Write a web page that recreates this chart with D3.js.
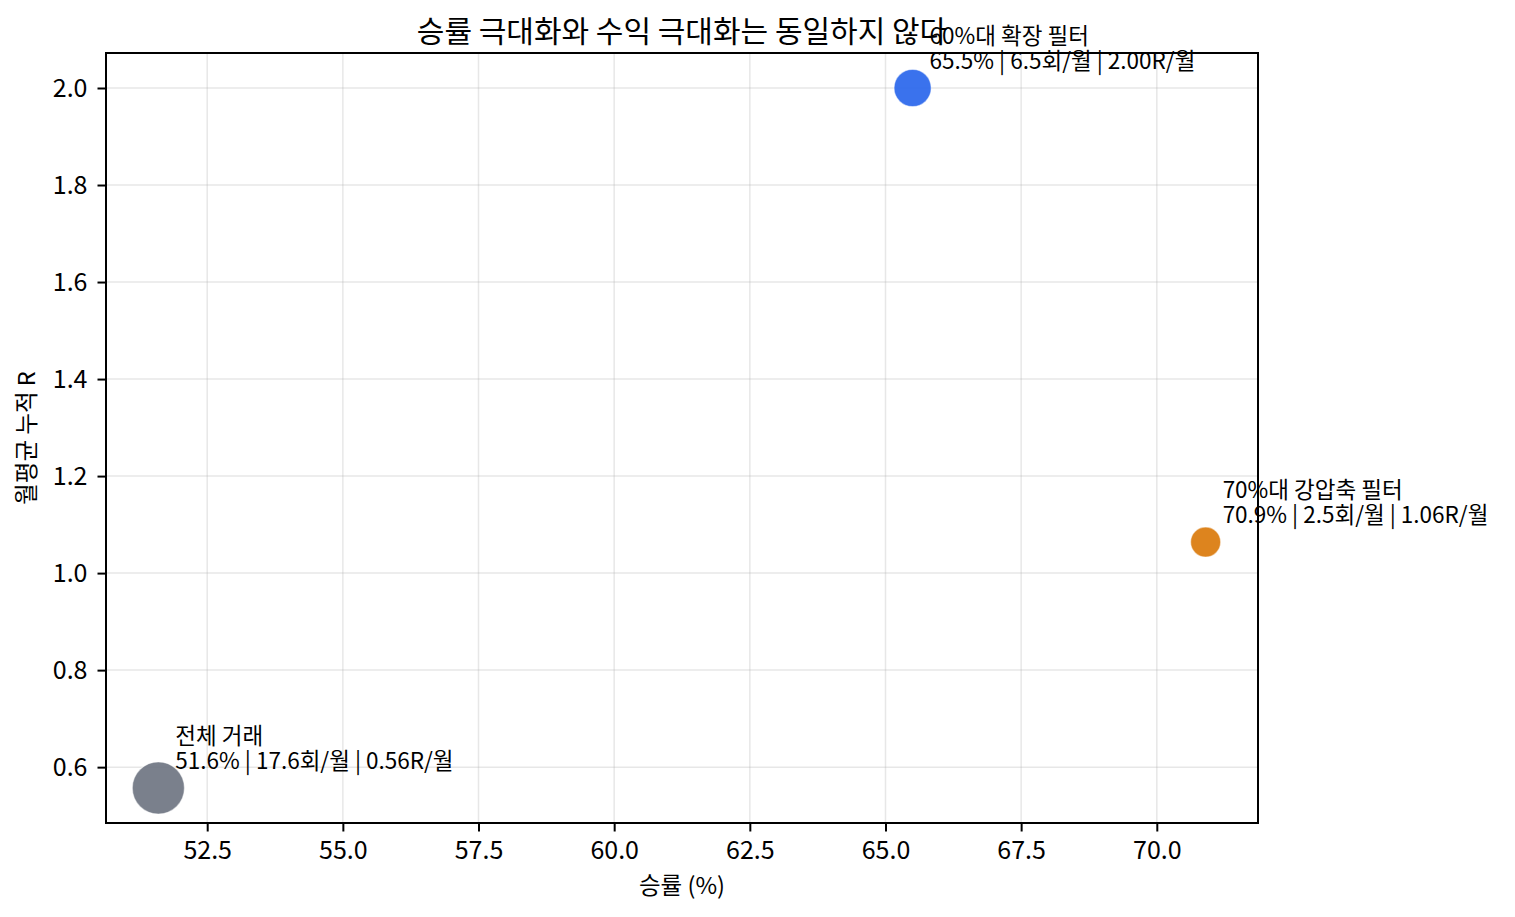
<!DOCTYPE html>
<html>
<head>
<meta charset="utf-8">
<script src="https://cdn.jsdelivr.net/npm/d3@7"></script>
<style>
  body { margin: 0; background: #fff; }
  text { font-family: "Noto Sans CJK KR", "Noto Sans", sans-serif; fill: #000; }
</style>
</head>
<body>
<div id="chart"></div>
<script>
// chart data
let groupNames = ["전체 거래", "60%대 확장 필터", "70%대 강압축 필터"];
let winRates = [51.6, 65.5, 70.9];
let tradesPerMonth = [17.6, 6.5, 2.5];
let monthlyR = [0.557, 2.0, 1.064];
let rLabels = ["0.56", "2.00", "1.06"];
let colors = ["#6b7280", "#2563eb", "#d97706"];
let xTicks = [52.5, 55.0, 57.5, 60.0, 62.5, 65.0, 67.5, 70.0];
let yTicks = [0.6, 0.8, 1.0, 1.2, 1.4, 1.6, 1.8, 2.0];

let svgWidth = 1515;
let svgHeight = 917;

let margin = { top: 53, right: 257, bottom: 94, left: 106 };
let width = svgWidth - margin.left - margin.right;
let height = svgHeight - margin.top - margin.bottom;

let svg = d3.select("#chart")
    .append("svg")
    .attr("width", svgWidth)
    .attr("height", svgHeight);

let chartGroup = svg.append("g")
    .attr("transform", `translate(${margin.left}, ${margin.top})`);

// matplotlib style 5% padding
let xPad = (d3.max(winRates) - d3.min(winRates)) * 0.05;
let yPad = (d3.max(monthlyR) - d3.min(monthlyR)) * 0.05;

let xScale = d3.scaleLinear()
    .domain([d3.min(winRates) - xPad, d3.max(winRates) + xPad])
    .range([0, width]);

let yScale = d3.scaleLinear()
    .domain([d3.min(monthlyR) - yPad, d3.max(monthlyR) + yPad])
    .range([height, 0]);

// marker area grows with trade count
let areaScale = d3.scaleLinear()
    .domain([0, 20])
    .range([150, 750]);

// grid
chartGroup.append("g")
    .selectAll("line")
    .data(xTicks)
    .enter()
    .append("line")
    .attr("x1", d => xScale(d))
    .attr("x2", d => xScale(d))
    .attr("y1", 0)
    .attr("y2", height)
    .attr("stroke", "#b0b0b0")
    .attr("stroke-opacity", 0.3)
    .attr("stroke-width", 1.5);

chartGroup.append("g")
    .selectAll("line")
    .data(yTicks)
    .enter()
    .append("line")
    .attr("x1", 0)
    .attr("x2", width)
    .attr("y1", d => yScale(d))
    .attr("y2", d => yScale(d))
    .attr("stroke", "#b0b0b0")
    .attr("stroke-opacity", 0.3)
    .attr("stroke-width", 1.5);

// axes
let bottomAxis = d3.axisBottom(xScale)
    .tickValues(xTicks)
    .tickFormat(d3.format(".1f"))
    .tickSize(8.5)
    .tickPadding(10);

let leftAxis = d3.axisLeft(yScale)
    .tickValues(yTicks)
    .tickFormat(d3.format(".1f"))
    .tickSize(8.5)
    .tickPadding(10);

let xAxis = chartGroup.append("g")
    .attr("transform", `translate(0, ${height})`)
    .call(bottomAxis);

let yAxis = chartGroup.append("g")
    .call(leftAxis);

[xAxis, yAxis].forEach(function(ax) {
    ax.select(".domain").remove();
    ax.selectAll(".tick line").attr("stroke", "#000").attr("stroke-width", 2);
    ax.selectAll(".tick text")
        .attr("font-size", "25px")
        .style("font-family", "'Noto Sans CJK KR', sans-serif")
        .attr("fill", "#000");
});

// bubbles
let data = groupNames.map((name, i) => ({
    name: name,
    win: winRates[i],
    trades: tradesPerMonth[i],
    r: monthlyR[i],
    rLabel: rLabels[i],
    color: colors[i]
}));

chartGroup.selectAll("circle")
    .data(data)
    .enter()
    .append("circle")
    .attr("cx", d => xScale(d.win))
    .attr("cy", d => yScale(d.r))
    .attr("r", d => Math.sqrt(areaScale(d.trades)))
    .attr("fill", d => d.color)
    .attr("fill-opacity", 0.9)
    .attr("stroke", "#fff")
    .attr("stroke-opacity", 0.45)
    .attr("stroke-width", 1.2);

// annotations, two lines each
chartGroup.selectAll(".note-name")
    .data(data)
    .enter()
    .append("text")
    .attr("class", "note-name")
    .attr("font-size", "22.5px")
    .attr("x", d => xScale(d.win) + 17)
    .attr("y", d => yScale(d.r) - 44)
    .text(d => d.name);

chartGroup.selectAll(".note-stats")
    .data(data)
    .enter()
    .append("text")
    .attr("class", "note-stats")
    .attr("font-size", "22.5px")
    .attr("x", d => xScale(d.win) + 17)
    .attr("y", d => yScale(d.r) - 19)
    .text(d => `${d.win.toFixed(1)}% | ${d.trades.toFixed(1)}회/월 | ${d.rLabel}R/월`);

// frame
chartGroup.append("rect")
    .attr("width", width)
    .attr("height", height)
    .attr("fill", "none")
    .attr("stroke", "#000")
    .attr("stroke-width", 2);

// title and labels
svg.append("text")
    .attr("x", margin.left + width / 2)
    .attr("y", 42)
    .attr("text-anchor", "middle")
    .attr("font-size", "30px")
    .text("승률 극대화와 수익 극대화는 동일하지 않다");

svg.append("text")
    .attr("x", margin.left + width / 2)
    .attr("y", 894)
    .attr("text-anchor", "middle")
    .attr("font-size", "23.5px")
    .text("승률 (%)");

svg.append("text")
    .attr("transform", `translate(35, ${margin.top + height / 2}) rotate(-90)`)
    .attr("text-anchor", "middle")
    .attr("font-size", "23.5px")
    .text("월평균 누적 R");
</script>
</body>
</html>
